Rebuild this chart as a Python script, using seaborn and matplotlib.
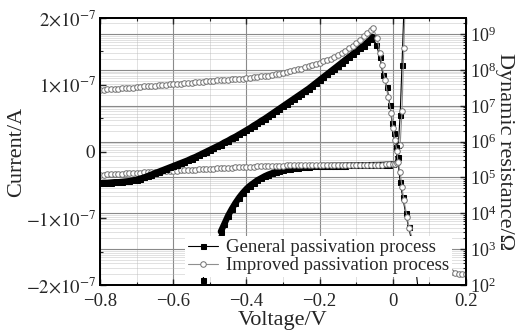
import numpy as np
import matplotlib
matplotlib.use("Agg")
import matplotlib.pyplot as plt
import seaborn as sns
from matplotlib.ticker import MultipleLocator, LogLocator, FixedLocator, FuncFormatter, NullFormatter

sns.set_style("ticks")
plt.rcParams["font.family"] = ["Liberation Serif", "DejaVu Serif"]
plt.rcParams["mathtext.fontset"] = "stix"

# ---- data ----
# dynamic resistance, log10(R / Ohm)
v_r_gen = np.concatenate([np.linspace(-0.80, -0.06, 75),
                          [-0.055, -0.045, -0.035, -0.027, -0.016, -0.008, -0.002, 0.002, 0.008, 0.013,
                           0.020, 0.027, 0.035, 0.043, 0.050, 0.06, 0.07, 0.08]])
logr_gen = [4.84, 4.85, 4.85, 4.86, 4.87, 4.87, 4.88, 4.89, 4.90, 4.92,
            4.94, 4.97, 5.00, 5.04, 5.08, 5.12, 5.16, 5.20, 5.24, 5.28,
            5.32, 5.36, 5.40, 5.44, 5.48, 5.53, 5.57, 5.62, 5.67, 5.72,
            5.77, 5.82, 5.87, 5.92, 5.98, 6.03, 6.09, 6.14, 6.20, 6.26,
            6.32, 6.38, 6.45, 6.51, 6.58, 6.64, 6.71, 6.78, 6.85, 6.92,
            6.99, 7.06, 7.13, 7.20, 7.27, 7.34, 7.41, 7.48, 7.56, 7.64,
            7.72, 7.80, 7.88, 7.96, 8.04, 8.12, 8.20, 8.28, 8.36, 8.44,
            8.52, 8.60, 8.68, 8.77, 8.86,
            8.92, 8.70, 8.35, 7.86, 7.52, 7.02, 6.52, 6.24, 5.85, 5.57,
            4.87, 4.45, 4.00, 3.62, 3.30, 2.70, 1.80, 1.00]

v_r_imp = np.concatenate([np.linspace(-0.80, -0.06, 75),
                          [-0.054, -0.043, -0.035, -0.030, -0.021, -0.013, -0.004, 0.000, 0.006, 0.011,
                           0.014, 0.020, 0.025, 0.030, 0.039, 0.044, 0.06, 0.08, 0.10, 0.12,
                           0.14, 0.16, 0.17, 0.18, 0.19, 0.20]])
logr_imp = [7.44, 7.45, 7.46, 7.46, 7.47, 7.48, 7.49, 7.50, 7.51, 7.51,
            7.52, 7.53, 7.54, 7.55, 7.56, 7.56, 7.57, 7.58, 7.59, 7.60,
            7.61, 7.61, 7.62, 7.63, 7.64, 7.65, 7.66, 7.66, 7.67, 7.68,
            7.69, 7.70, 7.71, 7.71, 7.72, 7.73, 7.74, 7.75, 7.75, 7.76,
            7.77, 7.79, 7.80, 7.81, 7.82, 7.83, 7.84, 7.86, 7.88, 7.90,
            7.92, 7.94, 7.97, 7.99, 8.02, 8.04, 8.07, 8.10, 8.13, 8.17,
            8.20, 8.24, 8.28, 8.32, 8.37, 8.42, 8.48, 8.54, 8.61, 8.68,
            8.76, 8.85, 8.94, 9.03, 9.12,
            9.17, 8.89, 8.47, 8.13, 7.72, 7.24, 6.80, 6.38, 6.04, 5.75,
            5.43, 5.15, 4.73, 4.37, 3.90, 3.59, 3.10, 2.80, 2.60, 2.48,
            2.40, 2.35, 2.33, 2.32, 2.31, 2.30]

# current, in units of 1e-7 A
v_i_gen = np.concatenate([np.linspace(-0.52, 0.0, 53), [0.005, 0.010, 0.015, 0.020, 0.025, 0.030]])
i_gen = [-1.93, -1.76, -1.60, -1.46, -1.33, -1.20, -1.08, -0.96, -0.86, -0.77,
         -0.69, -0.62, -0.56, -0.51, -0.47, -0.43, -0.40, -0.37, -0.345, -0.325,
         -0.305, -0.29, -0.275, -0.265, -0.255, -0.245, -0.24, -0.235, -0.23, -0.226,
         -0.223, -0.22, -0.218, -0.216, -0.215, -0.214, -0.213, -0.212, -0.211, -0.21,
         -0.209, -0.208, -0.207, -0.206, -0.205, -0.204, -0.203, -0.202, -0.201, -0.20,
         -0.198, -0.195, -0.19,
         -0.17, -0.10, 0.10, 0.55, 1.30, 2.10]

v_i_imp = np.concatenate([np.linspace(-0.80, 0.0, 81), [0.005, 0.010, 0.015, 0.020, 0.025, 0.030, 0.035]])
i_imp = [-0.350, -0.347, -0.344, -0.341, -0.338, -0.335, -0.332, -0.329, -0.326, -0.323,
         -0.320, -0.317, -0.314, -0.311, -0.308, -0.305, -0.302, -0.299, -0.296, -0.293,
         -0.290, -0.287, -0.284, -0.281, -0.278, -0.275, -0.272, -0.269, -0.266, -0.263,
         -0.260, -0.257, -0.254, -0.251, -0.248, -0.245, -0.242, -0.239, -0.236, -0.233,
         -0.230, -0.228, -0.226, -0.224, -0.222, -0.220, -0.218, -0.216, -0.214, -0.212,
         -0.210, -0.209, -0.208, -0.207, -0.206, -0.205, -0.204, -0.203, -0.202, -0.201,
         -0.200, -0.200, -0.200, -0.199, -0.199, -0.199, -0.198, -0.198, -0.198, -0.197,
         -0.197, -0.197, -0.196, -0.196, -0.196, -0.195, -0.195, -0.195, -0.194, -0.194,
         -0.193,
         -0.19, -0.17, -0.10, 0.10, 0.60, 1.55, 2.50]

labels = ["General passivation process", "Improved passivation process"]
gray_line = "#8f8f8f"
gray_edge = "#707070"

fig = plt.figure(figsize=(5.18, 3.33), dpi=100)
rect = [0.1931, 0.1441, 0.7066, 0.8018]
r_lim = (1e2, 10 ** 9.45)

# background axis carrying the grid (log, like the resistance axis)
ax_bg = fig.add_axes(rect)
ax_bg.set_xlim(-0.8, 0.2)
ax_bg.set_yscale("log")
ax_bg.set_ylim(*r_lim)
ax_bg.xaxis.set_major_locator(MultipleLocator(0.2))
ax_bg.xaxis.set_minor_locator(MultipleLocator(0.1))
ax_bg.yaxis.set_major_locator(LogLocator(base=10, numticks=20))
ax_bg.yaxis.set_minor_locator(LogLocator(base=10, subs=np.arange(2, 10), numticks=20))
ax_bg.grid(which="major", color="#8a8a8a", lw=0.8, ls="-")
ax_bg.grid(which="minor", color="#b8b8b8", lw=0.6, ls=(0, (1.2, 1.2)))
ax_bg.tick_params(which="both", length=0, labelleft=False, labelbottom=False)
ax_bg.yaxis.set_minor_formatter(NullFormatter())
for s in ax_bg.spines.values():
    s.set_visible(False)

# current axis
ax = fig.add_axes(rect, facecolor="none")
i_gen_a = np.array(i_gen) * 1e-7
# dense measured points merge into a solid band on the flat part
sns.lineplot(x=v_i_gen[5:53], y=i_gen_a[5:53], ax=ax, color="black", lw=4.5,
             estimator=None, sort=False)
sns.lineplot(x=v_i_gen, y=i_gen_a, ax=ax, color="black", lw=0.8,
             marker="s", markersize=3.6, markeredgecolor="black", markerfacecolor="black",
             estimator=None, sort=False)
sns.lineplot(x=v_i_imp, y=np.array(i_imp) * 1e-7, ax=ax, color=gray_line, lw=0.8,
             marker="o", markersize=4.0, markeredgecolor=gray_edge, markerfacecolor="white",
             markeredgewidth=0.7, estimator=None, sort=False)
ax.set_xlim(-0.8, 0.2)
ax.set_ylim(-2e-7, 2e-7)
ax.xaxis.set_major_locator(MultipleLocator(0.2))
ax.xaxis.set_minor_locator(MultipleLocator(0.1))
ax.xaxis.set_major_formatter(FuncFormatter(
    lambda v, p: "0" if abs(v) < 1e-9 else f"{v:.1f}".replace("-", "\u2212")))
ax.yaxis.set_major_locator(FixedLocator([-2e-7, -1e-7, 0, 1e-7, 2e-7]))
ax.set_yticklabels([r"$-2{\times}10^{-7}$", r"$-1{\times}10^{-7}$", r"$0$",
                    r"$1{\times}10^{-7}$", r"$2{\times}10^{-7}$"])
ax.yaxis.set_minor_locator(FixedLocator([-1.5e-7, -0.5e-7, 0.5e-7, 1.5e-7]))
ax.tick_params(axis="x", which="both", direction="in", top=True, labelsize=13.5, pad=6)
ax.tick_params(axis="y", which="both", direction="in", right=False, labelsize=13.5, pad=3)
ax.tick_params(which="major", length=4, width=1)
ax.tick_params(which="minor", length=2.5, width=0.8)
ax.set_xlabel("Voltage/V", fontsize=16, labelpad=0.5)
ax.set_ylabel("Current/A", fontsize=16, labelpad=0)

# resistance axis
ax2 = ax.twinx()
r_gen = 10 ** np.array(logr_gen)
sns.lineplot(x=v_r_gen[:76], y=r_gen[:76], ax=ax2, color="black", lw=4.5,
             estimator=None, sort=False)
sns.lineplot(x=v_r_gen, y=r_gen, ax=ax2, color="black", lw=0.8,
             marker="s", markersize=3.6, markeredgecolor="black", markerfacecolor="black",
             estimator=None, sort=False, label=labels[0])
sns.lineplot(x=v_r_imp, y=10 ** np.array(logr_imp), ax=ax2, color=gray_line, lw=0.8,
             marker="o", markersize=4.0, markeredgecolor=gray_edge, markerfacecolor="white",
             markeredgewidth=0.7, estimator=None, sort=False, label=labels[1])
ax2.set_yscale("log")
ax2.set_ylim(*r_lim)
ax2.yaxis.set_major_locator(LogLocator(base=10, numticks=20))
ax2.yaxis.set_minor_locator(LogLocator(base=10, subs=np.arange(2, 10), numticks=20))
ax2.yaxis.set_minor_formatter(NullFormatter())
ax2.tick_params(axis="y", which="both", direction="in", labelsize=13, pad=3)
ax2.tick_params(which="major", length=4, width=1)
ax2.tick_params(which="minor", length=2.5, width=0.8)
ax2.set_ylabel("Dynamic resistance/\u03a9", fontsize=16, rotation=270, va="center", ha="center")
ax2.yaxis.set_label_coords(1.105, 0.5)

for a in (ax, ax2):
    for s in a.spines.values():
        s.set_linewidth(1.3)
        s.set_color("black")

leg = ax2.legend(loc="lower left", bbox_to_anchor=(0.232, 0.03), frameon=True, fancybox=False,
                 edgecolor="none", facecolor="white", framealpha=1, borderpad=0.15,
                 handlelength=1.6, handletextpad=0.45, labelspacing=0.05, borderaxespad=0,
                 fontsize=13.5)

fig.savefig("out.png", dpi=100)
